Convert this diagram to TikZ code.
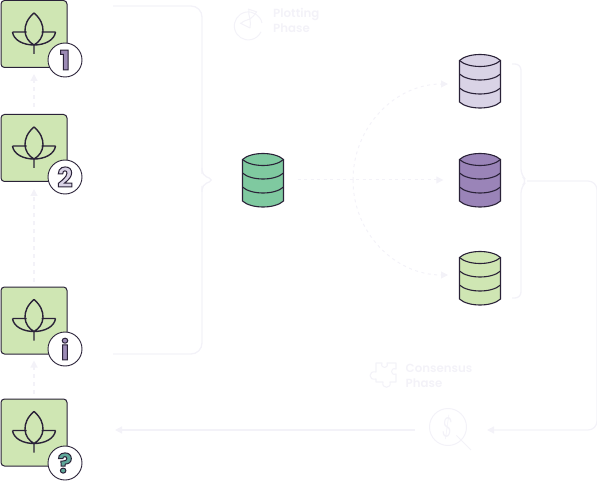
\documentclass[tikz,border=0pt]{standalone}
\usepackage{fontspec}
\setmainfont{Poppins}[BoldFont={Poppins SemiBold}]
\newfontfamily\badgefont{Poppins Bold}
\newfontfamily\thinfont{Poppins Light}
\usetikzlibrary{arrows.meta}
\definecolor{ink}{HTML}{2A2238}
\definecolor{faint}{HTML}{F3F2F8}
\definecolor{leaf}{HTML}{CFE6B3}
\definecolor{mint}{HTML}{7FC9A0}
\definecolor{lilac}{HTML}{D9D3E6}
\definecolor{grape}{HTML}{9A84B8}
\definecolor{badgeviolet}{HTML}{9C8BB5}
\definecolor{badgeteal}{HTML}{5FA89A}
\newcommand{\outlined}[2]{\textcolor{#1}{\special{pdf:code 2 Tr 1 w 0.165 0.133 0.22 RG}#2\special{pdf:code 0 Tr}}}
\tikzset{
  x=1pt,y=-1pt,
  tile/.style={draw=ink,line width=1pt,fill=leaf,rounded corners=3.5,minimum width=66pt,minimum height=67pt,inner sep=0pt},
  badge/.style={circle,draw=ink,line width=0.9pt,fill=white,minimum size=34pt,inner sep=0pt,font=\badgefont\fontsize{27}{27}\selectfont},
  dbslot/.style={minimum width=41pt,minimum height=54pt,inner sep=0pt},
  ghostline/.style={draw=faint,line width=1.3pt,rounded corners=11},
  ghostarrow/.style={draw=faint,line width=1.2pt,-{Triangle[length=7pt,width=7pt,fill=faint]}},
  ghostdash/.style={ghostarrow,dash pattern=on 4pt off 4pt},
  ghostdots/.style={ghostarrow,line width=1pt,dash pattern=on 3pt off 3.5pt},
  phase/.style={text=faint,font=\bfseries\fontsize{11.8}{15}\selectfont,align=left,anchor=north west,inner sep=0pt},
  pics/plant/.style={code={
    \draw[ink,line width=1.4pt,line join=round]
      (0,-21) .. controls (-13,-10) and (-11,5) .. (0,11) .. controls (11,5) and (13,-10) .. (0,-21)
      (0,11) -- (0,20)
      (-21.5,-2) -- (-7.5,-2) (7.5,-2) -- (21.5,-2)
      (-21.5,-2) .. controls (-20.5,6) and (-11,11) .. (0,11) .. controls (11,11) and (20.5,6) .. (21.5,-2);
  }},
  pics/cyl/.style={code={
    \draw[ink,line width=1.1pt,fill=#1]
      (-20.5,-20.5) -- (-20.5,21) .. controls (-12,29) and (12,29) .. (20.5,21) -- (20.5,-20.5)
      .. controls (12,-28.5) and (-12,-28.5) .. (-20.5,-20.5) -- cycle;
    \draw[ink,line width=1.1pt]
      (-20.5,-20.5) .. controls (-12,-12.5) and (12,-12.5) .. (20.5,-20.5)
      (-20.5,-7) .. controls (-12,1) and (12,1) .. (20.5,-7)
      (-20.5,7) .. controls (-12,15) and (12,15) .. (20.5,7);
  }},
}
\begin{document}
\begin{tikzpicture}
\useasboundingbox (0,0) rectangle (597,481);
% tiles
\node[tile] (t1) at (34,34) {};
\node[tile] (t2) at (34,148) {};
\node[tile] (ti) at (34,320.5) {};
\node[tile] (tq) at (34,432.5) {};
\foreach \t in {t1,t2,ti,tq} \pic at (\t.center) {plant};
\node[badge] (b1) at (65,60) {\outlined{badgeviolet}{1}};
\node[badge] (b2) at (65,177) {\outlined{lilac}{2}};
\node[badge] (bi) at (65,349) {\outlined{badgeviolet}{i}};
\node[badge] (bq) at (65,463) {\outlined{badgeteal}{?}};
% cylinders
\node[dbslot] (dbm) at (263,180) {};
\node[dbslot] (dba) at (480,81) {};
\node[dbslot] (dbb) at (480,180) {};
\node[dbslot] (dbc) at (480,278) {};
\pic at (dbm.center) {cyl=mint};
\pic at (dba.center) {cyl=lilac};
\pic at (dbb.center) {cyl=grape};
\pic at (dbc.center) {cyl=leaf};
% free-end coordinates
\coordinate (lt) at (113,6);
\coordinate (lb) at (113,354);
\coordinate (lm) at (214,180);
\coordinate (rt) at (512,64);
\coordinate (rb) at (512,298);
\coordinate (rm) at (527,181);
\node[circle,draw=faint,line width=1pt,minimum size=37pt,inner sep=0pt] (mag) at (448,427) {};
\coordinate (maghandle) at (471,450);
\coordinate (arcfrom) at (448,84);
\coordinate (arcto) at (448,275);
% upward dashed arrows
\draw[ghostdash,shorten <=7pt,shorten >=6pt] (t2.north) -- (t1.south);
\draw[ghostdash,shorten <=5pt,shorten >=7pt] (ti.north) -- (t2.south);
\draw[ghostdash,shorten <=5pt,shorten >=6pt] (tq.north) -- (ti.south);
% left brace
\draw[ghostline] (lt) -- (202,6) -- (202,174);
\draw[ghostline] (lb) -- (202,354) -- (202,186);
\draw[faint,line width=1.3pt,rounded corners=5] (202,168) -- (202,175) -- (lm) -- (202,185) -- (202,192);
% middle arrows
\draw[ghostdots,shorten <=14pt,shorten >=16pt] (dbm.east) -- (dbb.west);
\draw[ghostdots] (353,180) .. controls (353,127) and (395,84) .. (arcfrom);
\draw[ghostdots] (353,180) .. controls (353,233) and (395,275) .. (arcto);
% right brace
\draw[faint,line width=1.3pt,rounded corners=6] (rt) -- (521,64) -- (521,175) -- (rm) -- (521,187) -- (521,298) -- (rb);
\draw[ghostarrow,rounded corners=9] (rm) -- (597,181) -- (597,430) -- (487,430);
% bottom arrow
\draw[ghostarrow,shorten <=-2pt] (mag.west |- 0,430) ++(-16,0) -- (115,430);
% magnifier
\draw[faint,line width=1pt] (mag.south east) ++(-5,-5) -- (maghandle);
\node[text=faint,rotate=-8,xscale=0.6,font=\thinfont\fontsize{28}{28}\selectfont] at (mag.center) {\$};
% puzzle icon
\draw[faint,line width=1.1pt,line join=round]
  (376,363) -- (382,363) .. controls (380,369) and (389,369) .. (387,363) -- (396,363)
  -- (396,369) .. controls (390,367) and (390,376) .. (396,374) -- (396,382) -- (390,382)
  .. controls (392,389) and (381,389) .. (383,382) -- (376,382) -- (376,379)
  .. controls (368,381) and (368,370) .. (376,372) -- cycle;
\node[phase] (con) at (405.5,363.5) {Consensus\\Phase};
% hourglass icon
\draw[faint,line width=1pt] (262,23) arc[start angle=-12,end angle=-335,radius=14];
\draw[faint,line width=1pt] (248,9) -- (257,12) (240,23) -- (250,28)
  (249,9.5) .. controls (248,15) and (250,17) .. (250,19) .. controls (251,22) and (250,25) .. (250,28)
  (256.5,12) .. controls (254,16) and (252,17) .. (250,19) .. controls (247,20) and (243,21) .. (241,23.5);
\node[phase] (plot) at (273,8) {Plotting\\Phase};
\end{tikzpicture}
\end{document}
